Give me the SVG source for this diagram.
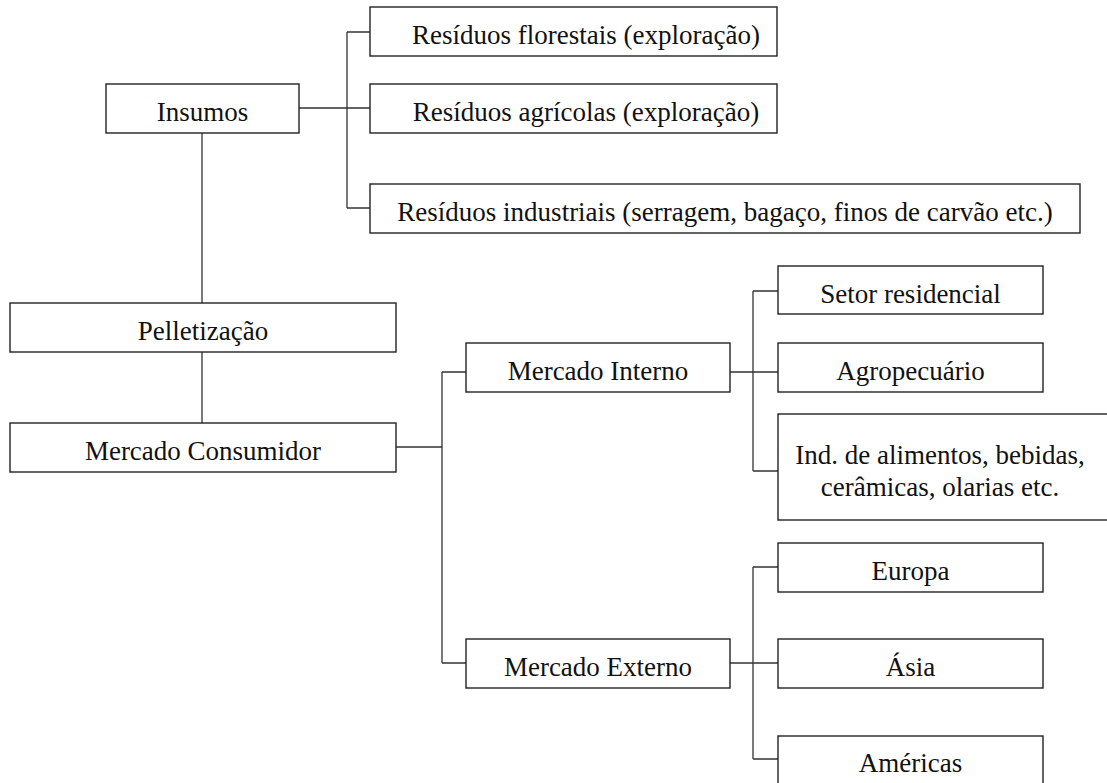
<svg xmlns="http://www.w3.org/2000/svg" width="1107" height="783" viewBox="0 0 1107 783">
<style>
.box{fill:#fff;stroke:#222;stroke-width:1.4}
.lbl{font-family:"Liberation Serif","Times New Roman",serif;font-size:27px;fill:#111;text-anchor:middle}
.conn{stroke:#333;stroke-width:1.3;fill:none}
</style>
<rect width="1107" height="783" fill="#fff"/>
<g id="connectors">
<path class="conn" d="M299,108H370 M347,32V208 M347,32H370 M347,208H370"/>
<path class="conn" d="M202,133V303 M202,352V423"/>
<path class="conn" d="M396,447H442 M442,372V663 M442,372H466 M442,663H466"/>
<path class="conn" d="M730,372H778 M753,291V471 M753,291H778 M753,471H778"/>
<path class="conn" d="M730,663H778 M753,567V759 M753,567H778 M753,759H778"/>
</g>
<g id="insumos"><rect class="box" x="106" y="84" width="193" height="49"/><text class="lbl" x="202.5" y="121">Insumos</text></g>
<g id="florestais"><rect class="box" x="370" y="7" width="407" height="49"/><text class="lbl" x="586" y="44">Resíduos florestais (exploração)</text></g>
<g id="agricolas"><rect class="box" x="370" y="84" width="407" height="49"/><text class="lbl" x="586" y="121">Resíduos agrícolas (exploração)</text></g>
<g id="industriais"><rect class="box" x="370" y="184" width="710" height="49"/><text class="lbl" x="725" y="221">Resíduos industriais (serragem, bagaço, finos de carvão etc.)</text></g>
<g id="pelletizacao"><rect class="box" x="10" y="303" width="386" height="49"/><text class="lbl" x="203" y="340">Pelletização</text></g>
<g id="mercado-consumidor"><rect class="box" x="10" y="423" width="386" height="49"/><text class="lbl" x="203" y="460">Mercado Consumidor</text></g>
<g id="mercado-interno"><rect class="box" x="466" y="343" width="264" height="49"/><text class="lbl" x="598" y="380">Mercado Interno</text></g>
<g id="mercado-externo"><rect class="box" x="466" y="639" width="264" height="49"/><text class="lbl" x="598" y="676">Mercado Externo</text></g>
<g id="setor-residencial"><rect class="box" x="778" y="266" width="265" height="48"/><text class="lbl" x="910.5" y="302.5">Setor residencial</text></g>
<g id="agropecuario"><rect class="box" x="778" y="343" width="265" height="49"/><text class="lbl" x="910.5" y="380">Agropecuário</text></g>
<g id="industria"><rect class="box" x="778" y="414" width="340" height="106"/><text class="lbl" x="940" y="464">Ind. de alimentos, bebidas,</text><text class="lbl" x="940" y="496">cerâmicas, olarias etc.</text></g>
<g id="europa"><rect class="box" x="778" y="543" width="265" height="49"/><text class="lbl" x="910.5" y="580">Europa</text></g>
<g id="asia"><rect class="box" x="778" y="639" width="265" height="49"/><text class="lbl" x="910.5" y="676">Ásia</text></g>
<g id="americas"><rect class="box" x="778" y="736" width="265" height="60"/><text class="lbl" x="910.5" y="772">Américas</text></g>
</svg>
